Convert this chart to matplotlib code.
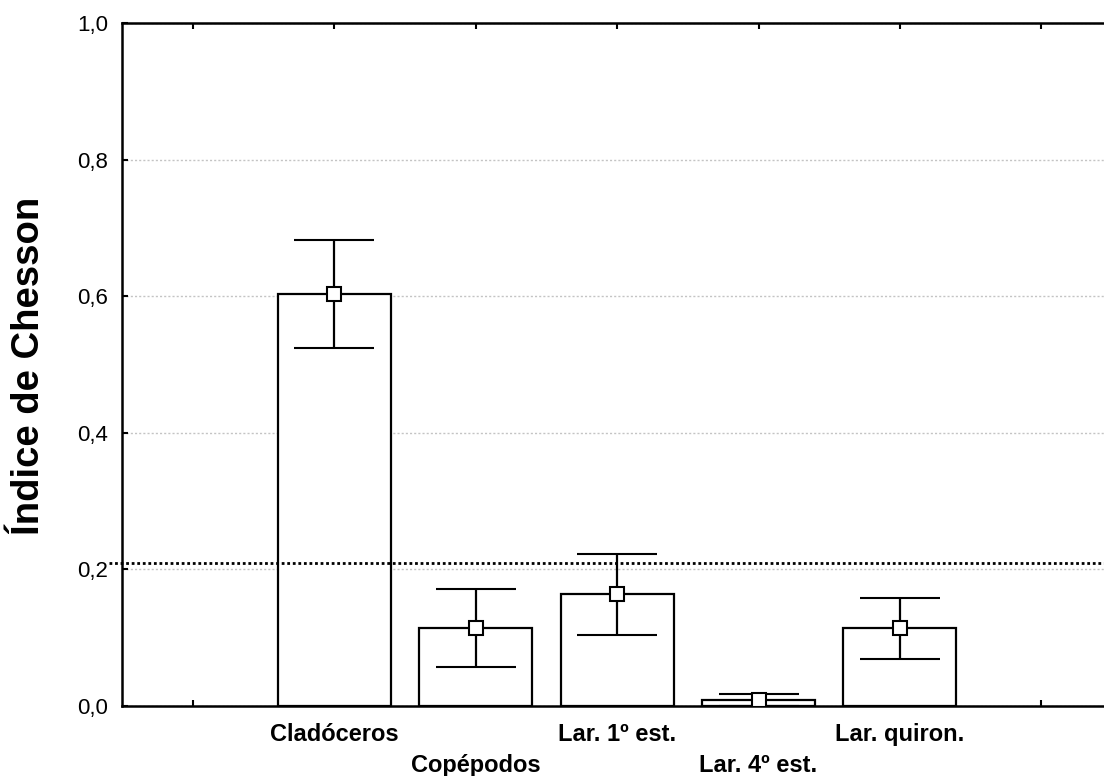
import matplotlib
matplotlib.use("Agg")
import matplotlib.pyplot as plt
import numpy as np

plt.rcParams['font.family'] = ['Liberation Sans', 'DejaVu Sans']

categories = ['Cladóceros', 'Copépodos', 'Lar. 1º est.', 'Lar. 4º est.', 'Lar. quiron.']
means = [0.604, 0.114, 0.164, 0.0085, 0.114]
err_low = [0.080, 0.057, 0.060, 0.0095, 0.046]
err_high = [0.079, 0.057, 0.058, 0.0086, 0.044]
reference_value = 0.2095
y_ticks = [0.0, 0.2, 0.4, 0.6, 0.8, 1.0]
y_tick_labels = ['0,0', '0,2', '0,4', '0,6', '0,8', '1,0']

W, H = 1104, 776
fig = plt.figure(figsize=(W / 100, H / 100), dpi=100)
left_px, right_px = 122.3, 1112.0
top_px, bottom_px = 23.3, 705.7
ax = fig.add_axes([left_px / W, 1 - bottom_px / H,
                   (right_px - left_px) / W, (bottom_px - top_px) / H])

x = np.arange(1, len(categories) + 1)

ax.bar(x, means, width=0.8, color='white', edgecolor='black',
       linewidth=1.6, zorder=2)
ax.errorbar(x, means, yerr=[err_low, err_high], fmt='s', color='black',
            ecolor='black', elinewidth=1.6, capsize=29, capthick=1.6,
            markersize=9.5, markerfacecolor='white', markeredgecolor='black',
            markeredgewidth=1.5, zorder=3)

ax.axhline(reference_value, xmin=-0.013, xmax=1.0, color='black',
           linestyle=(0, (1, 1)), linewidth=2.0, zorder=4, clip_on=False)

ax.set_xlim(-0.5, 6.5)
ax.set_ylim(0, 1.0)
ax.set_xticks(np.arange(0, 7))
labels = [''] + [c if i % 2 == 0 else '\n' + c for i, c in enumerate(categories)] + ['']
ax.set_xticklabels(labels, fontsize=17, fontweight='bold')
for t in ax.get_xticklabels():
    t.set_linespacing(1.42)
ax.set_yticks(y_ticks)
ax.set_yticklabels(y_tick_labels, fontsize=16)

ax.yaxis.grid(True, color='#c4c4c4', linestyle=(0, (1.5, 1.5)), linewidth=1.0, zorder=0)
ax.set_axisbelow(True)

ax.tick_params(axis='x', direction='in', top=True, length=4, width=1.5, pad=12.5)
ax.tick_params(axis='y', direction='in', length=4, width=1.5, pad=10)
for s in ax.spines.values():
    s.set_linewidth(1.8)

fig.text(39 / W, 1 - 366 / H, 'Índice de Chesson', rotation=90, ha='center',
         va='baseline', rotation_mode='anchor', fontsize=27.5, fontweight='bold')

fig.savefig('out.png', dpi=100)
